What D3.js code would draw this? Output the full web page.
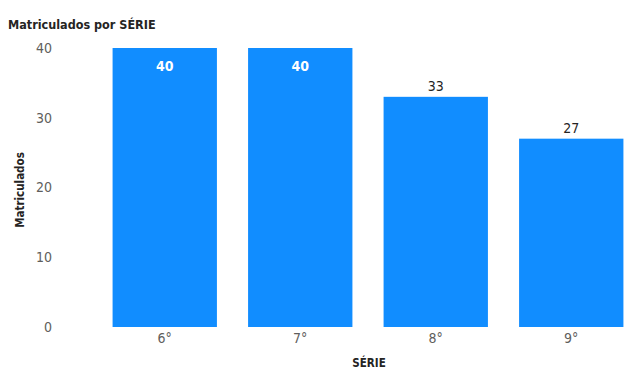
<!DOCTYPE html>
<html><head><meta charset="utf-8">
<script src="https://cdn.jsdelivr.net/npm/d3@7"></script>
<style>body{margin:0;background:#fff}svg{display:block}</style>
</head><body>
<svg id="c" width="637" height="371"></svg>
<script>
const categories = ["6°", "7°", "8°", "9°"];
const values = [40, 40, 33, 27];
const yTicks = [0, 10, 20, 30, 40];

const svg = d3.select("#c");
const font = "'DejaVu Sans Condensed', 'DejaVu Sans', sans-serif";
const x = d3.scaleBand().domain(categories).range([97, 639]).paddingInner(0.23).paddingOuter(0.115);
const y = d3.scaleLinear().domain([0, 40]).range([327, 48]);

svg.append("text").attr("x", 8).attr("y", 29).text("Matriculados por SÉRIE")
  .attr("font-family", font).attr("font-weight", "bold").attr("font-size", 12.5).attr("fill", "#252423");

const ya = svg.append("g").attr("transform", "translate(52,0)")
  .call(d3.axisLeft(y).tickValues(yTicks).tickSize(0).tickPadding(0));
ya.select(".domain").remove();
ya.selectAll("text").attr("font-family", font).attr("font-size", 14).attr("fill", "#605E5C");

svg.append("text").attr("transform", "translate(24,190) rotate(-90)").attr("text-anchor", "middle")
  .text("Matriculados").attr("font-family", font).attr("font-weight", "bold").attr("font-size", 11.5).attr("fill", "#252423");

svg.selectAll("rect.bar").data(values).join("rect").attr("class", "bar")
  .attr("x", (d, i) => x(categories[i])).attr("width", x.bandwidth())
  .attr("y", d => y(d)).attr("height", d => y(0) - y(d)).attr("fill", "#118DFF");

const xa = svg.append("g").attr("transform", "translate(0,333)")
  .call(d3.axisBottom(x).tickSize(0).tickPadding(0));
xa.select(".domain").remove();
xa.selectAll("text").attr("font-family", font).attr("font-size", 14).attr("fill", "#605E5C");

svg.append("text").attr("x", 369).attr("y", 367).attr("text-anchor", "middle")
  .text("SÉRIE").attr("font-family", font).attr("font-weight", "bold").attr("font-size", 11.5).attr("fill", "#252423");

svg.selectAll("text.lbl").data(values).join("text").attr("class", "lbl")
  .attr("x", (d, i) => x(categories[i]) + x.bandwidth() / 2)
  .attr("y", d => d >= 38 ? y(d) + 23 : y(d) - 6)
  .attr("text-anchor", "middle").text(d => d)
  .attr("font-family", font).attr("font-size", 14)
  .attr("font-weight", d => d >= 38 ? "bold" : "normal")
  .attr("fill", d => d >= 38 ? "#fff" : "#252423");
</script>
</body></html>
